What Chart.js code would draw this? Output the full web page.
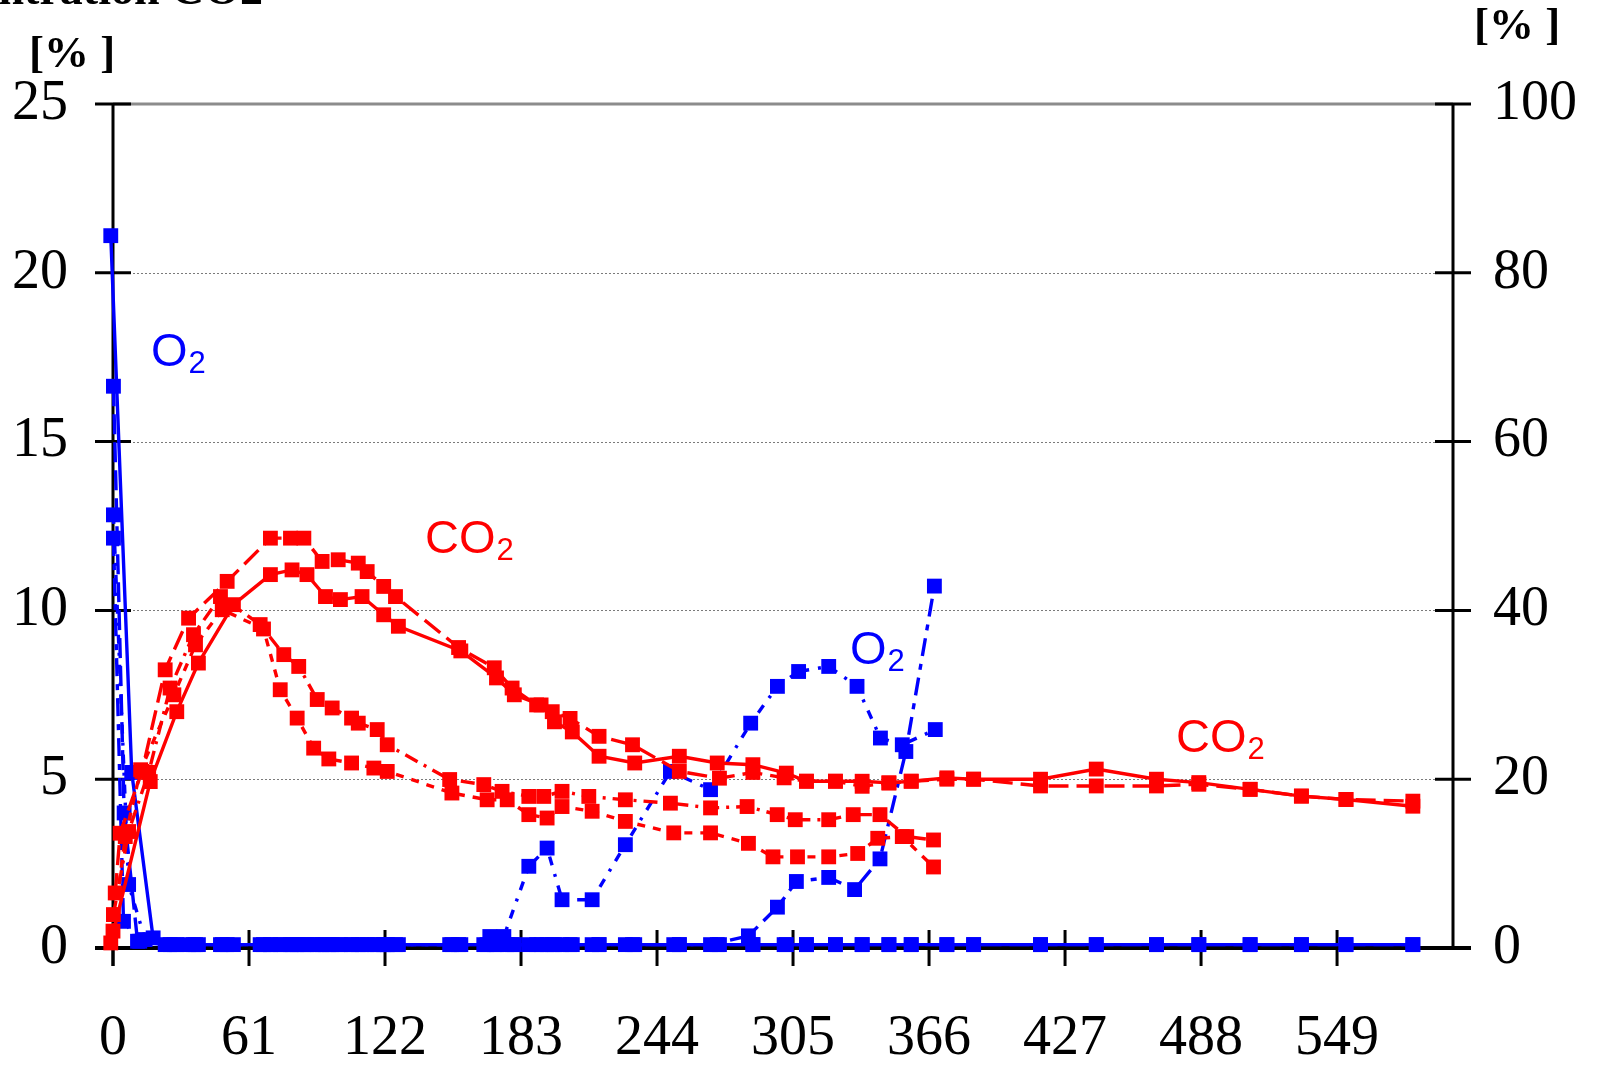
<!DOCTYPE html>
<html><head><meta charset="utf-8">
<script src="https://cdn.jsdelivr.net/npm/chart.js@4.4.1/dist/chart.umd.min.js"></script>
<style>html,body{margin:0;padding:0;background:#fff;overflow:hidden}#wrap{position:relative;width:1604px;height:1067px}</style>
</head><body><div id="wrap"><canvas id="c" width="1604" height="1067"></canvas></div>
<script>
// ---- axis ticks ----
const xTicks = [0, 61, 122, 183, 244, 305, 366, 427, 488, 549];
const yLeftTicks = [0, 5, 10, 15, 20, 25];
const yRightTicks = [0, 20, 40, 60, 80, 100];

// ---- CO2 series (left axis, %) ----
const co2A_days = [-1, 16.7, 28.6, 38.3, 54, 70.6, 80.3, 87, 95.3, 102, 111.7, 121.4, 128, 156, 172, 180, 192, 198, 206, 218, 234, 254, 271, 287, 302, 311, 324, 336, 348, 358, 374, 386, 416, 441, 468, 487, 510, 533, 553, 583];
const co2A_vals = [0.15, 4.93, 7.0, 8.44, 10.17, 11.06, 11.2, 11.06, 10.41, 10.32, 10.41, 9.87, 9.53, 8.8, 8.0, 7.5, 7.2, 6.7, 6.4, 5.68, 5.48, 5.68, 5.48, 5.43, 5.18, 4.94, 4.94, 4.94, 4.89, 4.94, 5.04, 5.0, 5.0, 5.3, 5.0, 4.9, 4.7, 4.5, 4.4, 4.2];

const co2B_days = [1, 3.2, 13, 23.4, 33.9, 51.2, 70.6, 79.6, 85.6, 93.8, 101, 110, 114, 121.4, 126.7, 155, 171, 179, 190, 197, 205, 218, 233, 254, 272, 287, 301, 311, 324, 336, 348, 358, 374, 386, 416, 441, 468, 487, 510, 533, 553, 583];
const co2B_vals = [1.63, 3.4, 5.23, 8.24, 9.77, 10.86, 12.14, 12.14, 12.14, 11.45, 11.5, 11.4, 11.15, 10.71, 10.41, 8.9, 8.3, 7.7, 7.2, 7.0, 6.8, 6.27, 6.02, 5.23, 5.03, 5.2, 5.04, 4.94, 4.94, 4.79, 4.89, 4.94, 5.0, 5.0, 4.8, 4.8, 4.8, 4.85, 4.7, 4.5, 4.4, 4.35];

const co2C_days = [0.2, 7, 16, 25.6, 36.1, 48.2, 66, 76.6, 83.3, 91.6, 98.3, 107, 110, 118.5, 123, 151, 166.3, 174.5, 186.5, 193.2, 201.4, 213.4, 229.8, 250, 268, 284.4, 297.9, 306, 321, 332, 344, 356, 368];
const co2C_vals = [0.99, 3.45, 5.2, 7.7, 9.28, 10.41, 9.58, 8.69, 8.34, 7.36, 7.11, 6.81, 6.66, 6.47, 6.02, 4.99, 4.84, 4.64, 4.49, 4.49, 4.64, 4.49, 4.39, 4.29, 4.15, 4.19, 3.95, 3.8, 3.8, 3.95, 3.95, 3.3, 3.2];

const co2D_days = [0, 5.5, 12.4, 27.3, 37, 49, 67.5, 75, 82.6, 90, 96.8, 107, 117, 123, 152, 167.8, 176.8, 186.5, 194.7, 201.4, 214.9, 229.8, 251.5, 268, 285, 296, 307, 321, 334, 343, 354, 368];
const co2D_vals = [0.5, 3.3, 5.28, 7.5, 8.98, 10.02, 9.45, 7.65, 6.81, 5.92, 5.6, 5.48, 5.33, 5.23, 4.59, 4.39, 4.39, 3.95, 3.85, 4.19, 4.05, 3.75, 3.41, 3.41, 3.1, 2.7, 2.7, 2.7, 2.8, 3.25, 3.3, 2.4];

// ---- O2 series (left axis, %) ----
const o2A_days = [-1, 8.4, 18, 28.6, 38.3, 54, 70.6, 80.3, 87, 95.3, 102, 111.7, 121.4, 128, 156, 172, 180, 192, 198, 206, 218, 234, 254, 271, 287, 302, 311, 324, 336, 348, 358, 374, 386, 416, 441, 468, 487, 510, 533, 553, 583];
const o2A_vals = [21.1, 5.2, 0.3, 0.1, 0.1, 0.1, 0.1, 0.1, 0.1, 0.1, 0.1, 0.1, 0.1, 0.1, 0.1, 0.1, 0.1, 0.1, 0.1, 0.1, 0.1, 0.1, 0.1, 0.1, 0.1, 0.1, 0.1, 0.1, 0.1, 0.1, 0.1, 0.1, 0.1, 0.1, 0.1, 0.1, 0.1, 0.1, 0.1, 0.1, 0.1];

const o2B_days = [0.2, 5, 11, 23.4, 33.9, 51.2, 70.6, 79.6, 85.6, 93.8, 101, 110, 114, 121.4, 126.7, 155, 171, 179, 190, 197, 205, 218, 233, 254, 272, 287, 301, 311, 324, 336, 348, 358, 374, 386, 416, 441, 468, 487, 510, 533, 553, 583];
const o2B_vals = [16.64, 4.0, 0.2, 0.1, 0.1, 0.1, 0.1, 0.1, 0.1, 0.1, 0.1, 0.1, 0.1, 0.1, 0.1, 0.1, 0.1, 0.1, 0.1, 0.1, 0.1, 0.1, 0.1, 0.1, 0.1, 0.1, 0.1, 0.1, 0.1, 0.1, 0.1, 0.1, 0.1, 0.1, 0.1, 0.1, 0.1, 0.1, 0.1, 0.1, 0.1, 0.1];

const o2C_days = [0.2, 7, 14.4, 25.6, 36.1, 48.2, 66, 76.6, 83.3, 91.6, 98.3, 107, 118.5, 123, 151, 166.3, 169, 175.3, 186.5, 194.7, 201.4, 214.9, 229.8, 250, 268, 286, 298, 307.5, 321, 333.7, 344.2, 354, 368.8];
const o2C_vals = [12.83, 1.88, 0.25, 0.1, 0.1, 0.1, 0.1, 0.1, 0.1, 0.1, 0.1, 0.1, 0.1, 0.1, 0.1, 0.1, 0.34, 0.34, 2.42, 2.96, 1.43, 1.43, 3.06, 5.23, 4.69, 6.66, 7.75, 8.19, 8.34, 7.75, 6.22, 6.02, 6.47];

const o2D_days = [0.2, 4.7, 12, 27.3, 37, 49, 67.5, 75, 82.6, 90, 96.8, 107, 117, 123, 152, 167.8, 176.8, 186.5, 194.7, 201.4, 214.9, 229.8, 251.5, 268, 285, 298, 306.5, 321, 332.6, 344, 355.6, 368.4];
const o2D_vals = [12.14, 0.79, 0.2, 0.1, 0.1, 0.1, 0.1, 0.1, 0.1, 0.1, 0.1, 0.1, 0.1, 0.1, 0.1, 0.1, 0.1, 0.1, 0.1, 0.1, 0.1, 0.1, 0.1, 0.1, 0.36, 1.21, 1.97, 2.09, 1.73, 2.64, 5.82, 10.72];

// ---- texts ----
const titleText = 'Concentration CO2';
const unitText = '[% ]';
const annotations = [
  {main: 'O', sub: '2', x: 151, y: 366, color: '#0000ff'},
  {main: 'CO', sub: '2', x: 425, y: 553, color: '#ff0000'},
  {main: 'O', sub: '2', x: 850, y: 664, color: '#0000ff'},
  {main: 'CO', sub: '2', x: 1176, y: 752, color: '#ff0000'}
];

const RED = '#ff0000', BLUE = '#0000ff';
const toXY = (d, v) => d.map((x, i) => ({x: x, y: v[i]}));
function ds(label, days, vals, color, dash) {
  return {
    label, data: toXY(days, vals), borderColor: color, backgroundColor: color,
    borderWidth: 3.4, borderDash: dash, pointStyle: 'rect', pointRadius: 10.5,
    pointBorderWidth: 0, pointBackgroundColor: color, pointHoverRadius: 10.5,
    tension: 0, fill: false, clip: false, yAxisID: 'y'
  };
}

const serif = '"Liberation Serif", "Times New Roman", serif';
const tickFont = {family: serif, size: 56, lineHeight: 1};

const framePlugin = {
  id: 'frame',
  beforeDatasetsDraw(chart) {
    const {ctx, chartArea: {left, right, top, bottom}, scales: {x, y, y2}} = chart;
    const T = 18;
    const line = (x1, y1, x2, y2_) => { ctx.beginPath(); ctx.moveTo(x1, y1); ctx.lineTo(x2, y2_); ctx.stroke(); };
    ctx.save();
    ctx.strokeStyle = '#7a7a7a'; ctx.lineWidth = 1; ctx.setLineDash([2, 2]);
    yLeftTicks.forEach(v => {
      if (v > 0 && v < 25) { const py = Math.round(y.getPixelForValue(v)) + 0.5; line(left, py, right, py); }
    });
    ctx.setLineDash([]);
    ctx.strokeStyle = '#8c8c8c'; ctx.lineWidth = 3;
    line(left, y.getPixelForValue(25), right, y.getPixelForValue(25));
    ctx.strokeStyle = '#000'; ctx.lineWidth = 3;
    line(left, top, left, bottom + T);
    line(right, top, right, bottom);
    yLeftTicks.forEach(v => { const py = y.getPixelForValue(v); line(left - T, py, left + T, py); });
    yRightTicks.forEach(v => { const py = y2.getPixelForValue(v); line(right - T, py, right + T, py); });
    xTicks.forEach(v => { const px = x.getPixelForValue(v); line(px, bottom - T, px, bottom + T); });
    ctx.lineWidth = 4;
    line(left - T, bottom, right + T, bottom);
    ctx.restore();
  },
  afterDraw(chart) {
    const ctx = chart.ctx;
    ctx.save();
    ctx.fillStyle = '#000';
    ctx.textBaseline = 'alphabetic';
    ctx.font = 'bold 46px ' + serif;
    ctx.textAlign = 'right';
    ctx.fillText(titleText, 263, 4);
    ctx.textAlign = 'left';
    ctx.font = 'bold 45px ' + serif;
    ctx.fillText(unitText, 29, 67);
    ctx.fillText(unitText, 1474, 39);
    annotations.forEach(a => {
      ctx.fillStyle = a.color;
      ctx.font = '47px "Liberation Sans", Arial, sans-serif';
      ctx.fillText(a.main, a.x, a.y);
      const w = ctx.measureText(a.main).width;
      ctx.font = '31px "Liberation Sans", Arial, sans-serif';
      ctx.fillText(a.sub, a.x + w + 1, a.y + 7);
    });
    ctx.restore();
  }
};

new Chart(document.getElementById('c'), {
  type: 'line',
  data: {
    datasets: [
      ds('CO2 A', co2A_days, co2A_vals, RED, []),
      ds('CO2 B', co2B_days, co2B_vals, RED, [20, 8]),
      ds('CO2 C', co2C_days, co2C_vals, RED, [14, 7, 3, 7]),
      ds('CO2 D', co2D_days, co2D_vals, RED, [8, 8]),
      ds('O2 A', o2A_days, o2A_vals, BLUE, []),
      ds('O2 B', o2B_days, o2B_vals, BLUE, [20, 8]),
      ds('O2 C', o2C_days, o2C_vals, BLUE, [9, 9, 3, 9]),
      ds('O2 D', o2D_days, o2D_vals, BLUE, [18, 8, 6, 8])
    ]
  },
  options: {
    responsive: false, animation: false, devicePixelRatio: 1,
    layout: {padding: {top: 104, left: 0, right: 0, bottom: 0}},
    plugins: {legend: {display: false}, tooltip: {enabled: false}, title: {display: false}},
    events: [],
    scales: {
      x: {
        type: 'linear', min: 0, max: 601,
        afterBuildTicks: s => { s.ticks = xTicks.map(v => ({value: v})); },
        afterFit: s => { s.height = 119; },
        grid: {display: false, drawTicks: false}, border: {display: false},
        ticks: {font: tickFont, color: '#000', padding: 63, maxRotation: 0, autoSkip: false, callback: v => String(v)}
      },
      y: {
        position: 'left', min: 0, max: 25,
        afterBuildTicks: s => { s.ticks = yLeftTicks.map(v => ({value: v})); },
        afterFit: s => { s.width = 113; },
        grid: {display: false, drawTicks: false}, border: {display: false},
        ticks: {font: tickFont, color: '#000', padding: 45, callback: v => String(v)}
      },
      y2: {
        position: 'right', min: 0, max: 100,
        afterBuildTicks: s => { s.ticks = yRightTicks.map(v => ({value: v})); },
        afterFit: s => { s.width = 151; },
        grid: {display: false, drawTicks: false}, border: {display: false},
        ticks: {font: tickFont, color: '#000', padding: 40, callback: v => String(v)}
      }
    }
  },
  plugins: [framePlugin]
});
</script>
</body></html>
